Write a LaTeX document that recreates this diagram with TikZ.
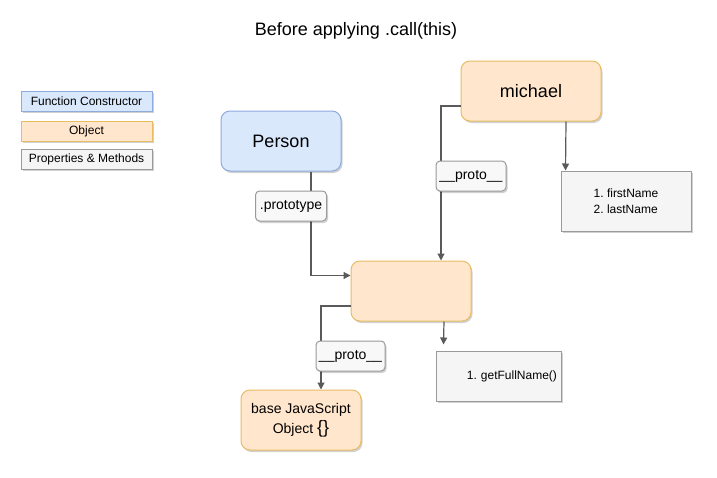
\documentclass[tikz,border=0pt]{standalone}
\usepackage{fontspec}
\setmainfont{Liberation Sans}
\usetikzlibrary{shadows,arrows.meta,calc}
\frenchspacing
\definecolor{bluefill}{HTML}{DAE8FC}
\definecolor{bluestroke}{HTML}{8FAADC}
\definecolor{orfill}{HTML}{FFE6CC}
\definecolor{orstroke}{HTML}{E8BC62}
\definecolor{grfill}{HTML}{F5F5F5}
\definecolor{grstroke}{HTML}{9A9A9A}
\definecolor{edgecol}{HTML}{5A5A5A}
\definecolor{lblfill}{HTML}{F8F8F8}
\tikzset{
  shad/.style={drop shadow={shadow xshift=1.5pt,shadow yshift=-2pt,opacity=0.18,fill=black}},
  box/.style={draw, line width=1pt, inner sep=0pt, align=center, shad},
  rbox/.style={box, rounded corners=9pt},
  fcs/.style={fill=bluefill, draw=bluestroke},
  objs/.style={fill=orfill, draw=orstroke},
  pms/.style={fill=grfill, draw=grstroke},
  lbl/.style={draw=grstroke, fill=lblfill, line width=1pt, rounded corners=4pt, inner sep=0pt,
    font=\fontsize{14}{16}\selectfont, minimum height=30pt, shad},
  conn/.style={draw=edgecol, line width=1.2pt},
  arr/.style={conn, -{Triangle[length=7pt,width=7pt]}},
  f11/.style={font=\fontsize{12}{14}\selectfont},
  f12/.style={font=\fontsize{12}{16}\selectfont},
  f14/.style={font=\fontsize{14}{20}\selectfont},
  f18/.style={font=\fontsize{18}{21}\selectfont},
}
\begin{document}
\begin{tikzpicture}[x=1pt,y=-1pt]
\useasboundingbox[fill=white] (0,0) rectangle (717,477);
% title
\node[font=\fontsize{18}{21}\selectfont] (title) at (356,31) {Before applying .call(this)};
% legend
\node[box, fcs, f11, minimum width=131pt, minimum height=20pt] (lfc) at (86.5,101) {Function Constructor};
\node[box, objs, f11, minimum width=131pt, minimum height=20pt] (lobj) at (86.5,131) {Object};
\node[box, pms, f11, minimum width=131pt, minimum height=20pt] (lpm) at (86.5,159) {Properties \& Methods};
% main nodes
\node[rbox, fcs, f18, minimum width=120pt, minimum height=60pt] (person) at (281,141) {Person};
\node[rbox, objs, f18, minimum width=140pt, minimum height=60pt] (michael) at (531,91) {michael};
\node[box, pms, f12, minimum width=130pt, minimum height=60pt, align=left] (props1) at (626,201) {1. firstName\\2. lastName};
\node[rbox, objs, minimum width=120pt, minimum height=60pt] (obj) at (411,291) {};
\node[rbox, objs, f14, minimum width=120pt, minimum height=60pt] (base) at (301,420) {base JavaScript\\Object {\fontsize{18}{20}\selectfont\{\}}};
\node[box, pms, f12, minimum width=125pt, minimum height=50pt, text width=117pt, inner xsep=4pt, align=right] (props2) at (498.5,376) {1. getFullName()};
% connectors
\coordinate (p2top) at ($(props2.north west)+(8,-6)$);
\draw[arr] ($(person.south)+(30,0)$) |- ($(obj.north west)+(0,15)$);
\draw[arr] ($(michael.west)+(0,15)$) -| ($(obj.north)+(30,0)$);
\draw[arr] ($(michael.south)+(35,0)$) -- ($(props1.north west)+(5,0)$);
\draw[arr] ($(obj.west)+(0,15)$) -| ($(base.north)+(20,0)$);
\draw[arr] ($(obj.south)+(33,0)$) -- (p2top);
% edge labels
\node[lbl, minimum width=71pt] (lblproto) at (291,206) {.prototype};
\node[lbl, minimum width=70pt] (lblm) at (471,176) {\_\_proto\_\_};
\node[lbl, minimum width=69pt] (lblo) at (350.5,356) {\_\_proto\_\_};
\end{tikzpicture}
\end{document}
